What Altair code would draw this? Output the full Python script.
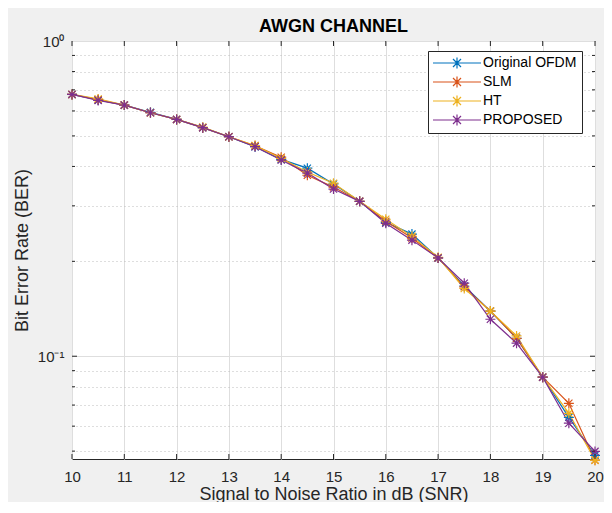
import altair as alt
import pandas as pd

# ---------------- data ----------------
snr = [10, 10.5, 11, 11.5, 12, 12.5, 13, 13.5, 14, 14.5, 15,
       15.5, 16, 16.5, 17, 17.5, 18, 18.5, 19, 19.5, 20]
ber_original = [0.677, 0.650, 0.626, 0.594, 0.564, 0.531, 0.497, 0.462, 0.421, 0.395, 0.352,
                0.310, 0.266, 0.244, 0.205, 0.167, 0.139, 0.114, 0.0858, 0.0640, 0.0485]
ber_slm = [0.677, 0.652, 0.626, 0.592, 0.564, 0.531, 0.497, 0.465, 0.428, 0.375, 0.344,
           0.310, 0.268, 0.237, 0.205, 0.166, 0.139, 0.114, 0.0858, 0.0709, 0.0468]
ber_ht = [0.677, 0.655, 0.626, 0.592, 0.564, 0.533, 0.497, 0.466, 0.424, 0.384, 0.354,
          0.310, 0.272, 0.240, 0.206, 0.164, 0.139, 0.116, 0.0858, 0.0659, 0.0468]
ber_proposed = [0.677, 0.648, 0.626, 0.592, 0.564, 0.531, 0.497, 0.462, 0.419, 0.381, 0.339,
                0.310, 0.264, 0.2335, 0.205, 0.1705, 0.131, 0.110, 0.0858, 0.0613, 0.0499]

series_names = ["Original OFDM", "SLM", "HT", "PROPOSED"]
series_colors = ["#0072BD", "#D95319", "#EDB120", "#7E2F8E"]

x_ticks = [10, 11, 12, 13, 14, 15, 16, 17, 18, 19, 20]
y_minor = [0.05, 0.06, 0.07, 0.08, 0.09, 0.2, 0.3, 0.4, 0.5, 0.6, 0.7, 0.8, 0.9]
y_major = [0.1, 1.0]

# ---------------- build table ----------------
rows = []
for name, vals in zip(series_names, [ber_original, ber_slm, ber_ht, ber_proposed]):
    for s, v in zip(snr, vals):
        rows.append({"snr": s, "ber": v, "series": name})
df = pd.DataFrame(rows)

W, H = 523, 418
AX = "#262626"
FONT = "Liberation Sans"
STAR = "M0,-1L0,1M-1,0L1,0M-0.72,-0.72L0.72,0.72M-0.72,0.72L0.72,-0.72"
LEG = ("M-4.8,0L4.8,0M0,-1.1L0,1.1M-1.1,0L1.1,0"
       "M-0.8,-0.8L0.8,0.8M-0.8,0.8L0.8,-0.8")

xs = alt.Scale(domain=[10, 20], nice=False, zero=False)
ys = alt.Scale(type="log", domain=[0.0472, 1], nice=False)

x_axis = alt.Axis(values=x_ticks, grid=True, gridColor="#dedede", gridWidth=1,
                  ticks=False, domain=False, labelPadding=10, labelFontSize=15,
                  labelFont=FONT, labelColor="#262626", labelFlush=False, labelOverlap=False,
                  title="Signal to Noise Ratio in dB (SNR)", titleFont=FONT,
                  titleFontSize=18, titleFontWeight="normal", titleColor="#262626",
                  titleX=W / 2, titleY=40, titleAlign="center", titleBaseline="alphabetic")

y_axis = alt.Axis(values=y_minor + y_major,
                  labelExpr="datum.value == 1 ? '10⁰' : (datum.value == 0.1 ? '10⁻¹' : '')",
                  grid=True,
                  gridColor={"condition": {"test": "datum.value == 0.1 || datum.value == 1", "value": "#dedede"},
                             "value": "#bdbdbd"},
                  gridDash={"condition": {"test": "datum.value == 0.1 || datum.value == 1", "value": []},
                            "value": [1, 3]},
                  ticks=False, domain=False, labelPadding=8, labelFontSize=15, labelFont=FONT,
                  labelColor="#262626", labelFlush=False, labelOverlap=False,
                  title="Bit Error Rate (BER)", titleFont=FONT, titleFontSize=18,
                  titleFontWeight="normal", titleColor="#262626",
                  titleX=-45, titleY=H / 2, titleAngle=-90, titleAlign="center",
                  titleBaseline="alphabetic")

color_leg = alt.Color("series:N", scale=alt.Scale(domain=series_names, range=series_colors),
                      legend=alt.Legend(title=None, orient="none", legendX=356, legendY=10,
                                        symbolType=LEG, symbolSize=100, symbolStrokeWidth=1.2,
                                        symbolOffset=17, labelOffset=19, padding=5,
                                        rowPadding=3, strokeColor=AX, fillColor="white",
                                        symbolFillColor="transparent",
                                        labelFont=FONT, labelFontSize=14, labelColor="black",
                                        cornerRadius=0))

X = lambda f: alt.X(f, scale=xs, axis=x_axis)
Y = lambda f: alt.Y(f, scale=ys, axis=y_axis)

lines = alt.Chart(df).mark_line(strokeWidth=1.2, clip=False).encode(
    x=X("snr:Q"), y=Y("ber:Q"), color=color_leg)
points = alt.Chart(df).mark_point(shape=STAR, filled=False, size=100, strokeWidth=1.2,
                                  opacity=1, clip=False).encode(
    x=X("snr:Q"), y=Y("ber:Q"), color=color_leg)

# inward tick marks (MATLAB style)
xt_df = pd.DataFrame({"x": x_ticks})
ymin_df = pd.DataFrame({"y": y_minor})
ymaj_df = pd.DataFrame({"y": y_major[:1]})

tick_b = alt.Chart(xt_df).mark_rule(color=AX, strokeWidth=1).encode(
    x=X("x:Q"), y=alt.value(H), y2=alt.value(H - 5))
tick_t = alt.Chart(xt_df).mark_rule(color=AX, strokeWidth=1).encode(
    x=X("x:Q"), y=alt.value(0), y2=alt.value(5))
tick_lm = alt.Chart(ymin_df).mark_rule(color=AX, strokeWidth=1).encode(
    y=Y("y:Q"), x=alt.value(0), x2=alt.value(3))
tick_rm = alt.Chart(ymin_df).mark_rule(color=AX, strokeWidth=1).encode(
    y=Y("y:Q"), x=alt.value(W - 3), x2=alt.value(W))
tick_lM = alt.Chart(ymaj_df).mark_rule(color=AX, strokeWidth=1).encode(
    y=Y("y:Q"), x=alt.value(0), x2=alt.value(5))
tick_rM = alt.Chart(ymaj_df).mark_rule(color=AX, strokeWidth=1).encode(
    y=Y("y:Q"), x=alt.value(W - 5), x2=alt.value(W))

chart = alt.layer(lines, points, tick_b, tick_t, tick_lm, tick_rm, tick_lM, tick_rM).properties(
    width=W, height=H,
    title=alt.TitleParams("AWGN CHANNEL", font=FONT, fontSize=18, fontWeight="bold",
                          color="black", anchor="middle", frame="group", offset=5, dy=7),
    background="#f0f0f0",
    padding={"left": 64, "top": 33, "right": 9, "bottom": 43},
    autosize=alt.AutoSizeParams(type="none"),
).configure_view(stroke=AX, strokeWidth=1, fill="white")

chart.save("out.html", embed_options={"renderer": "svg", "actions": False})
